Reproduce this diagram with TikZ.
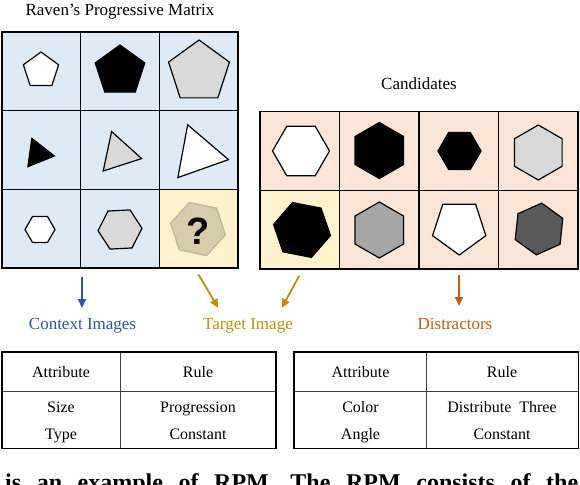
\documentclass[tikz,border=0pt]{standalone}
\usepackage{fontspec}
\setmainfont{Liberation Serif}
\setsansfont{Liberation Sans}
\usetikzlibrary{arrows.meta, shapes.geometric}

\definecolor{ctxfill}{HTML}{DEEBF7}
\definecolor{tgtfill}{HTML}{FFF2CC}
\definecolor{candfill}{HTML}{FBE5D6}
\definecolor{lgray}{HTML}{D9D9D9}
\definecolor{mgray}{HTML}{A6A6A6}
\definecolor{dgray}{HTML}{595959}
\definecolor{qfill}{HTML}{D8CCAD}
\definecolor{qdraw}{HTML}{BDB39E}
\definecolor{ctxblue}{HTML}{2F5597}
\definecolor{tgtgold}{HTML}{BF9000}
\definecolor{distorange}{HTML}{C55A11}

\begin{document}
\begin{tikzpicture}[
  x=1pt, y=-1pt,
  font=\fontsize{16}{19}\selectfont,
  cell/.style  = {draw, line width=1.4pt, minimum width=78.7pt, minimum height=78.7pt, inner sep=0pt},
  cand/.style  = {cell, fill=candfill, minimum width=79.5pt},
  shp/.style   = {regular polygon, draw, line width=1.2pt, inner sep=0pt, outer sep=0pt},
  pent/.style  = {shp, regular polygon sides=5},
  tri/.style   = {shp, regular polygon sides=3},
  hexa/.style  = {shp, regular polygon sides=6},
  title/.style = {anchor=base, inner sep=0pt},
  label/.style = {title, font=\fontsize{17}{20}\selectfont},
  frame/.style = {draw, line width=1.6pt},
  rule/.style  = {draw=black!75, line width=0.8pt},
  arrow/.style = {line width=1.8pt, -{Triangle[length=9pt, width=8pt]}}
]
\useasboundingbox (0,0) rectangle (580,484);

%--------------------------------------------------
% Raven's Progressive Matrix (3x3 cells)
%--------------------------------------------------
\node[label] (t_matrix) at (120,15.5) {Raven’s Progressive Matrix};

\foreach \r/\c/\x/\y/\f in {1/1/41.3/71.3/ctxfill, 1/2/120/71.3/ctxfill, 1/3/198.7/71.3/ctxfill,
                            2/1/41.3/150/ctxfill,  2/2/120/150/ctxfill,  2/3/198.7/150/ctxfill,
                            3/1/41.3/228.7/ctxfill, 3/2/120/228.7/ctxfill, 3/3/198.7/228.7/tgtfill}
  \node[cell, fill=\f] (m\r\c) at (\x,\y) {};

% row 1: pentagons
\node[pent, fill=white, minimum size=37pt] (p1) at (41,70.5) {};
\node[pent, fill=black, minimum size=52pt] (p2) at (120,71) {};
\node[pent, fill=lgray, minimum size=64pt] (p3) at (199,72) {};

% row 2: triangles
\node[tri, fill=black, minimum size=33pt, shape border rotate=22] (tr1) at (38,153.7) {};
\node[tri, fill=lgray, minimum size=46.6pt, shape border rotate=18] (tr2) at (118.8,153.7) {};
\node[tri, fill=white, minimum size=62pt, shape border rotate=19.5] (tr3) at (198,154) {};

% row 3: hexagons and the missing one
\node[hexa, fill=white, minimum size=30pt] (h1) at (40,229.5) {};
\node[hexa, fill=lgray, minimum size=44pt, shape border rotate=3] (h2) at (120,229.5) {};
\node[hexa, fill=qfill, draw=qdraw, minimum size=56pt, shape border rotate=-12] (hq) at (198,229) {};
\node[inner sep=0pt, font=\sffamily\bfseries\fontsize{38}{40}\selectfont] (qmark) at (198,231) {?};

%--------------------------------------------------
% Candidates (2x4 cells)
%--------------------------------------------------
\node[label] (t_cand) at (419,90) {Candidates};

\foreach \r/\c/\x/\y/\f in {1/1/299.75/151/candfill, 1/2/379.25/151/candfill, 1/3/458.75/151/candfill, 1/4/538.25/151/candfill,
                            2/1/299.75/229.7/tgtfill, 2/2/379.25/229.7/candfill, 2/3/458.75/229.7/candfill, 2/4/538.25/229.7/candfill}
  \node[cand, fill=\f] (c\r\c) at (\x,\y) {};

\node[hexa, fill=white, minimum size=57pt] (a1) at (301,151) {};
\node[hexa, fill=black, minimum size=56pt, shape border rotate=30] (a2) at (379.3,150.5) {};
\node[hexa, fill=black, minimum size=43pt] (a3) at (459.5,151) {};
\node[hexa, fill=lgray, minimum size=55pt, shape border rotate=30] (a4) at (538.3,152.5) {};
\node[hexa, fill=black, minimum size=58pt, shape border rotate=-11] (a5) at (302,230) {};
\node[hexa, fill=mgray, minimum size=56pt, shape border rotate=30] (a6) at (379.3,230) {};
\node[pent, fill=white, minimum size=56pt, shape border rotate=180] (a7) at (459.2,227) {};
\node[hexa, fill=dgray, minimum size=52pt, shape border rotate=24] (a8) at (539,229) {};

%--------------------------------------------------
% Labels and arrows
%--------------------------------------------------
\node[label, text=ctxblue] (l_ctx) at (82.5,329) {Context Images};
\node[label, text=tgtgold] (l_tgt) at (248,329) {Target Image};
\node[label, text=distorange] (l_dist) at (455,329) {Distractors};

\coordinate (ctx_from) at (82,277);
\coordinate (ctx_to) at (82,308);
\coordinate (tgtL_from) at (198.5,274.5);
\coordinate (tgtL_to) at (218.3,308);
\coordinate (tgtR_from) at (299.3,275.7);
\coordinate (tgtR_to) at (281.7,308);
\coordinate (dist_from) at (459,275);
\coordinate (dist_to) at (459,306);

\draw[arrow, ctxblue] (ctx_from) -- (ctx_to);
\draw[arrow, tgtgold] (tgtL_from) -- (tgtL_to);
\draw[arrow, tgtgold] (tgtR_from) -- (tgtR_to);
\draw[arrow, distorange] (dist_from) -- (dist_to);

%--------------------------------------------------
% Rule tables
%--------------------------------------------------
% left table
\draw[rule] (1.7,391) -- (276,391);
\draw[rule] (120,351.7) -- (120,448.3);
\draw[frame] (1.7,351.7) rectangle (276,448.3);
\node[title] (la1) at (61,377) {Attribute};
\node[title] (lr1) at (198,377) {Rule};
\node[title] (la2) at (61,412.5) {Size};
\node[title] (lr2) at (198,412.5) {Progression};
\node[title] (la3) at (61,439) {Type};
\node[title] (lr3) at (198,439) {Constant};

% right table
\draw[rule] (294,391) -- (578.3,391);
\draw[rule] (426,351.7) -- (426,448.3);
\draw[frame] (294,351.7) rectangle (578.3,448.3);
\node[title] (ra1) at (360.5,377) {Attribute};
\node[title] (rr1) at (502,377) {Rule};
\node[title] (ra2) at (360.5,412.5) {Color};
\node[title] (rr2) at (502,412.5) {Distribute\ \ Three};
\node[title] (ra3) at (360.5,439) {Angle};
\node[title] (rr3) at (502,439) {Constant};

% caption, cut by the lower edge
\node[anchor=base west, inner sep=0pt, font=\bfseries\fontsize{24}{28}\selectfont] (caption) at (5,490)
  {\makebox[573pt][s]{is an example of RPM. The RPM consists of the}};

\end{tikzpicture}
\end{document}
